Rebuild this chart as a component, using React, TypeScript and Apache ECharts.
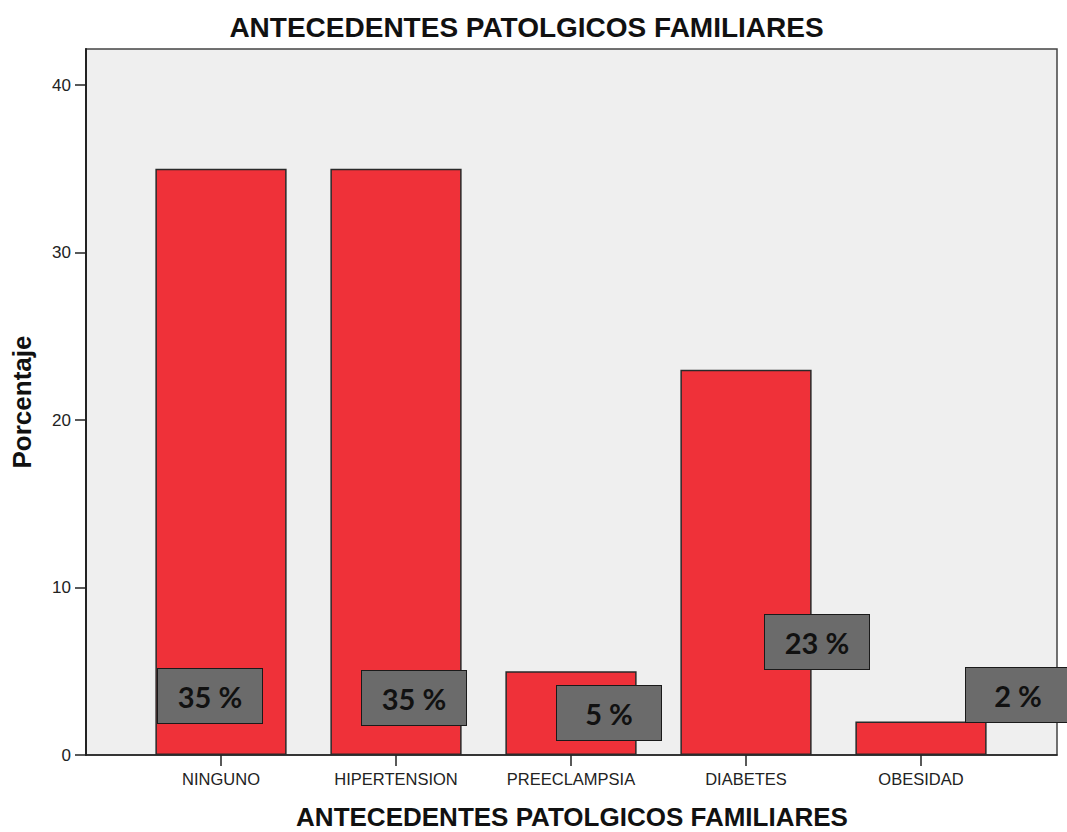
import React, { useEffect, useRef } from "react";
import * as echarts from "echarts";

const chartTitle = "ANTECEDENTES PATOLGICOS FAMILIARES";
const xAxisTitle = "ANTECEDENTES PATOLGICOS FAMILIARES";
const yAxisTitle = "Porcentaje";
const categories = ["NINGUNO", "HIPERTENSION", "PREECLAMPSIA", "DIABETES", "OBESIDAD"];
const percentages = [35, 35, 5, 23, 2];
const yTicks = [0, 10, 20, 30, 40];
const yMin = 0;
const yMax = 42.15;

// label box offsets (style only) relative to bar bottom centre
const labelOffsets: [number, number][] = [
  [-11, -32],
  [18, -30],
  [38, -15],
  [71, -86],
  [97, -33],
];

export default function App() {
  const ref = useRef<HTMLDivElement>(null);
  useEffect(() => {
    if (!ref.current) return;
    const chart = echarts.init(ref.current, null, { renderer: "svg" });
    const sans = "'Liberation Sans', Arial, sans-serif";
    const option: any = {
      animation: false,
      backgroundColor: "#ffffff",
      grid: [
        {
          left: 86,
          right: 10,
          top: 49,
          bottom: 77,
          show: true,
          backgroundColor: "#efefef",
          borderColor: "#444",
          borderWidth: 1.5,
        },
        {
          left: 133.5,
          right: 58.5,
          top: 49,
          bottom: 77,
        },
      ],
      xAxis: [
        {
          gridIndex: 0,
          type: "value",
          min: 0,
          max: 1,
          axisLine: { show: true, onZero: false, lineStyle: { color: "#222", width: 1.5 } },
          axisTick: { show: false },
          axisLabel: { show: false },
          splitLine: { show: false },
        },
        {
          gridIndex: 1,
          type: "category",
          data: categories,
          axisLine: { show: false },
          axisTick: {
            show: true,
            alignWithLabel: true,
            interval: 0,
            length: 11,
            lineStyle: { color: "#222", width: 1.5 },
          },
          axisLabel: {
            interval: 0,
            fontFamily: sans,
            fontSize: 16.5,
            color: "#222",
            margin: 15,
          },
        },
      ],
      yAxis: [
        {
          gridIndex: 0,
          type: "value",
          min: yMin,
          max: yMax,
          axisLine: { show: true, lineStyle: { color: "#222", width: 2 } },
          axisTick: {
            show: true,
            length: 11,
            customValues: yTicks,
            lineStyle: { color: "#222", width: 1.5 },
          },
          axisLabel: {
            customValues: yTicks,
            fontFamily: sans,
            fontSize: 17,
            color: "#222",
            margin: 15,
          },
          splitLine: { show: false },
        },
        {
          gridIndex: 1,
          type: "value",
          min: yMin,
          max: yMax,
          show: false,
        },
      ],
      series: [
        {
          type: "bar",
          xAxisIndex: 1,
          yAxisIndex: 1,
          barWidth: "75%",
          data: percentages.map((v, i) => ({
            value: v,
            label: { offset: labelOffsets[i] },
          })),
          itemStyle: {
            color: "#ef3139",
            borderColor: "#2a2a2a",
            borderWidth: 1.5,
          },
          label: {
            show: true,
            position: "insideBottom",
            distance: 0,
            formatter: (p: any) => `${p.value} %`,
            width: 104,
            height: 54,
            lineHeight: 54,
            align: "center",
            verticalAlign: "bottom",
            padding: 0,
            backgroundColor: "#6b6b6b",
            borderColor: "#1a1a1a",
            borderWidth: 1,
            fontFamily: "Lato, 'Open Sans', sans-serif",
            fontWeight: "bold",
            fontSize: 29,
            color: "#111",
          },
        },
      ],
      graphic: [
        {
          type: "text",
          x: 526.5,
          y: 27,
          style: {
            text: chartTitle,
            fontFamily: sans,
            fontWeight: "bold",
            fontSize: 28,
            fill: "#111",
            align: "center",
            verticalAlign: "middle",
          },
        },
        {
          type: "text",
          x: 22,
          y: 402,
          rotation: Math.PI / 2,
          style: {
            text: yAxisTitle,
            fontFamily: sans,
            fontWeight: "bold",
            fontSize: 26,
            fill: "#111",
            align: "center",
            verticalAlign: "middle",
          },
        },
        {
          type: "text",
          x: 572,
          y: 817,
          style: {
            text: xAxisTitle,
            fontFamily: sans,
            fontWeight: "bold",
            fontSize: 26,
            fill: "#111",
            align: "center",
            verticalAlign: "middle",
          },
        },
      ],
    };
    chart.setOption(option);
    return () => chart.dispose();
  }, []);
  return (
    <div
      ref={ref}
      style={{ position: "absolute", left: 0, top: 0, width: 1067, height: 832 }}
    />
  );
}
